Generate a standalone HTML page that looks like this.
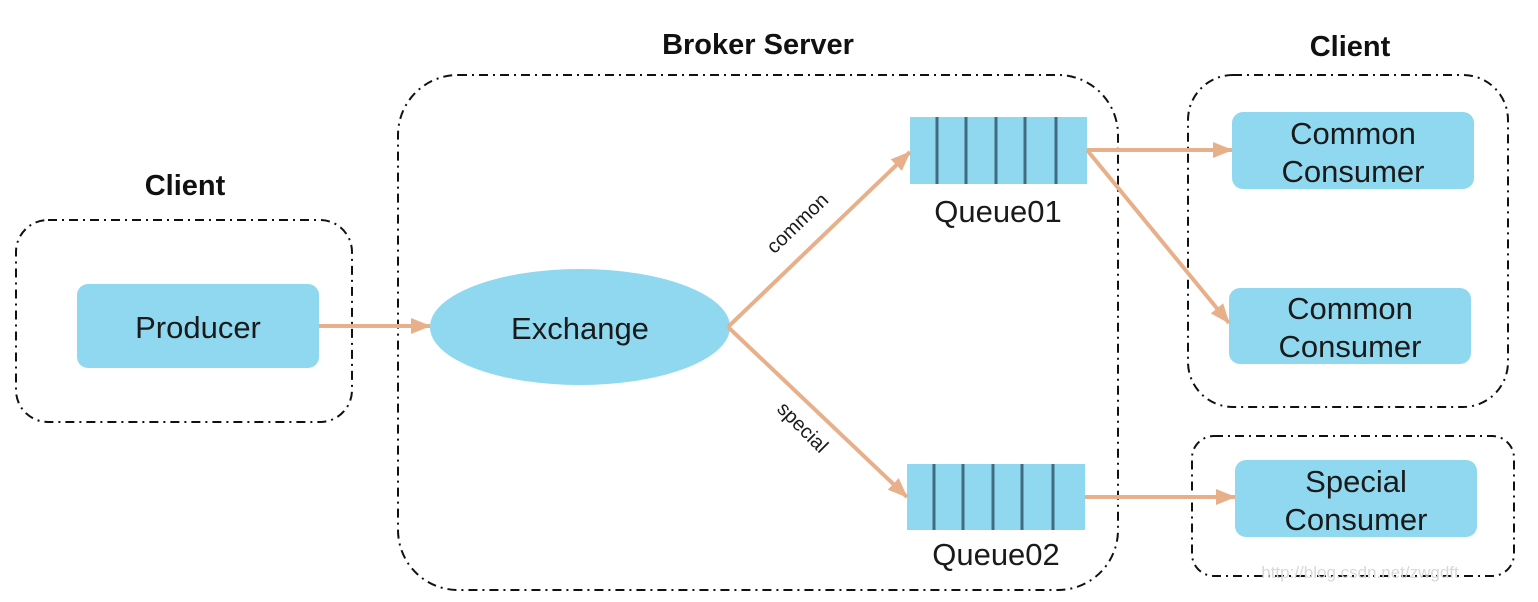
<!DOCTYPE html>
<html><head><meta charset="utf-8"><style>
html,body{margin:0;padding:0;background:#fff;}
svg{display:block;}
text{font-family:"Liberation Sans","DejaVu Sans",sans-serif;fill:#1a1a1a;}
</style></head><body>
<svg width="1538" height="602" viewBox="0 0 1538 602" xmlns="http://www.w3.org/2000/svg">
<defs>
<marker id="ah" markerWidth="20" markerHeight="16" refX="19" refY="8" orient="auto" markerUnits="userSpaceOnUse" viewBox="0 0 20 16">
<path d="M0,0 L20,8 L0,16 z" fill="#e8b08a"/></marker>
</defs>
<g fill="none" stroke="#111" stroke-width="2" stroke-dasharray="9,5,2,5">
<rect x="16" y="220" width="336" height="202" rx="32"/>
<rect x="398" y="75" width="720" height="515" rx="60"/>
<rect x="1188" y="75" width="320" height="332" rx="45"/>
<rect x="1192" y="436" width="322" height="140" rx="22"/>
</g>
<g font-weight="bold" font-size="29" text-anchor="middle">
<text x="185" y="195" style="fill:#111">Client</text>
<text x="758" y="54" style="fill:#111">Broker Server</text>
<text x="1350" y="56" style="fill:#111">Client</text>
</g>
<g fill="#8fd8f0">
<rect x="77" y="284" width="242" height="84" rx="11"/>
<ellipse cx="580" cy="327" rx="150" ry="58"/>
<rect x="910" y="117" width="177" height="67"/>
<rect x="907" y="464" width="178" height="66"/>
<rect x="1232" y="112" width="242" height="77" rx="11"/>
<rect x="1229" y="288" width="242" height="76" rx="11"/>
<rect x="1235" y="460" width="242" height="77" rx="11"/>
</g>
<g stroke="#3f6c80" stroke-width="3">
<line x1="937" y1="117" x2="937" y2="184"/><line x1="966" y1="117" x2="966" y2="184"/>
<line x1="996" y1="117" x2="996" y2="184"/><line x1="1025" y1="117" x2="1025" y2="184"/>
<line x1="1056" y1="117" x2="1056" y2="184"/>
<line x1="934" y1="464" x2="934" y2="530"/><line x1="963" y1="464" x2="963" y2="530"/>
<line x1="993" y1="464" x2="993" y2="530"/><line x1="1022" y1="464" x2="1022" y2="530"/>
<line x1="1053" y1="464" x2="1053" y2="530"/>
</g>
<g stroke="#e8b08a" stroke-width="4" marker-end="url(#ah)">
<line x1="319" y1="326" x2="430" y2="326"/>
<line x1="728" y1="327" x2="910" y2="152"/>
<line x1="728" y1="327" x2="907" y2="497"/>
<line x1="1087" y1="150" x2="1232" y2="150"/>
<line x1="1087" y1="150" x2="1229" y2="323"/>
<line x1="1085" y1="497" x2="1235" y2="497"/>
</g>
<g font-size="31" text-anchor="middle">
<text x="198" y="338">Producer</text>
<text x="580" y="339">Exchange</text>
<text x="998" y="222">Queue01</text>
<text x="996" y="565">Queue02</text>
<text x="1353" y="144">Common</text>
<text x="1353" y="182">Consumer</text>
<text x="1350" y="319">Common</text>
<text x="1350" y="357">Consumer</text>
<text x="1356" y="492">Special</text>
<text x="1356" y="530">Consumer</text>
</g>
<text x="802" y="228" font-size="20" text-anchor="middle" transform="rotate(-44 802 228)">common</text>
<text x="798" y="432" font-size="20" text-anchor="middle" transform="rotate(45 798 432)">special</text>
<text x="1360" y="578" font-size="17" text-anchor="middle" style="fill:#d8d8d8" font-family="Liberation Mono">http://blog.csdn.net/zwgdft</text>
</svg>
</body></html>
